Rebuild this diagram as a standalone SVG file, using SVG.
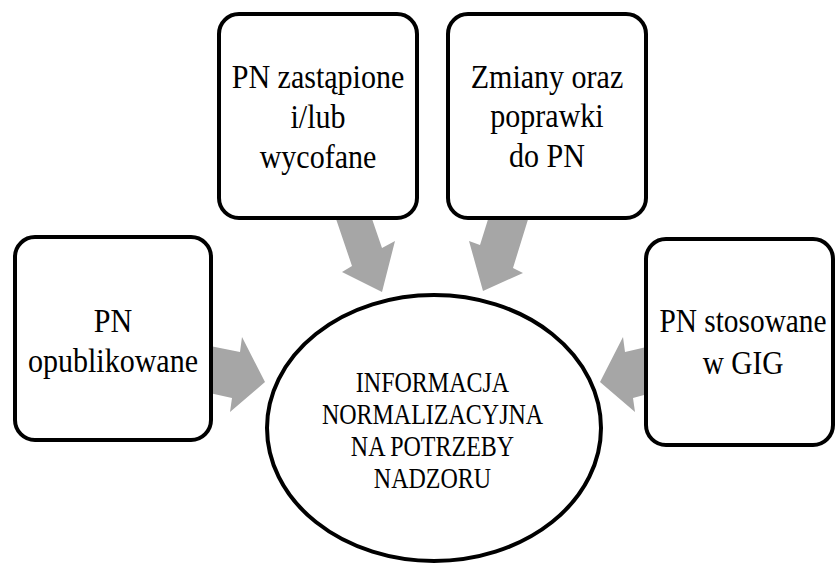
<svg xmlns="http://www.w3.org/2000/svg" width="836" height="565" viewBox="0 0 836 565">
  <style>
    .box { fill: #ffffff; stroke: #000000; stroke-width: 4; }
    .hub { fill: #ffffff; stroke: #000000; stroke-width: 4; }
    .arrow { fill: #a6a6a6; stroke: none; }
    .label { font-family: "Liberation Serif", "Times New Roman", serif; font-size: 33px; fill: #000000; text-anchor: middle; }
    .hub-label { font-family: "Liberation Serif", "Times New Roman", serif; font-size: 30px; fill: #000000; text-anchor: middle; }
  </style>
  <rect width="836" height="565" fill="#ffffff"/>

  <!-- block arrows pointing into the central ellipse -->
  <g id="connectors">
    <polygon class="arrow" points="205,345 240,352 242,337 265,382 230,412 232,398 205,392"/>
    <polygon class="arrow" points="334,213 370,213 382,248 395,241 382,292 342,272 352,266"/>
    <polygon class="arrow" points="490,213 530,213 513,268 523,273 483,291 469,241 480,245"/>
    <polygon class="arrow" points="655,345 625,352 623,337 600,382 635,412 633,398 655,392"/>
  </g>

  <g id="node-opublikowane">
    <rect class="box" x="15" y="237" width="196" height="203" rx="20"/>
    <g transform="translate(113 0) scale(0.91 1)">
      <text class="label" x="0" y="332">PN</text>
      <text class="label" x="0" y="372">opublikowane</text>
    </g>
  </g>

  <g id="node-zastapione">
    <rect class="box" x="219" y="14" width="198" height="204" rx="20"/>
    <g transform="translate(318 0) scale(0.91 1)">
      <text class="label" x="0" y="88">PN zastąpione</text>
      <text class="label" x="0" y="128">i/lub</text>
      <text class="label" x="0" y="168">wycofane</text>
    </g>
  </g>

  <g id="node-zmiany">
    <rect class="box" x="448" y="14" width="198" height="204" rx="20"/>
    <g transform="translate(547 0) scale(0.91 1)">
      <text class="label" x="0" y="88">Zmiany oraz</text>
      <text class="label" x="0" y="127.5">poprawki</text>
      <text class="label" x="0" y="167">do PN</text>
    </g>
  </g>

  <g id="node-stosowane">
    <rect class="box" x="646" y="239" width="187" height="206" rx="20"/>
    <g transform="translate(743 0) scale(0.89 1)">
      <text class="label" x="0" y="332">PN stosowane</text>
      <text class="label" x="0" y="374">w GIG</text>
    </g>
  </g>

  <g id="node-informacja">
    <ellipse class="hub" cx="434" cy="428" rx="167" ry="133"/>
    <g transform="translate(432.5 0) scale(0.8 1)">
      <text class="hub-label" x="0" y="392">INFORMACJA</text>
      <text class="hub-label" x="0" y="424">NORMALIZACYJNA</text>
      <text class="hub-label" x="0" y="456">NA POTRZEBY</text>
      <text class="hub-label" x="0" y="488">NADZORU</text>
    </g>
  </g>
</svg>
